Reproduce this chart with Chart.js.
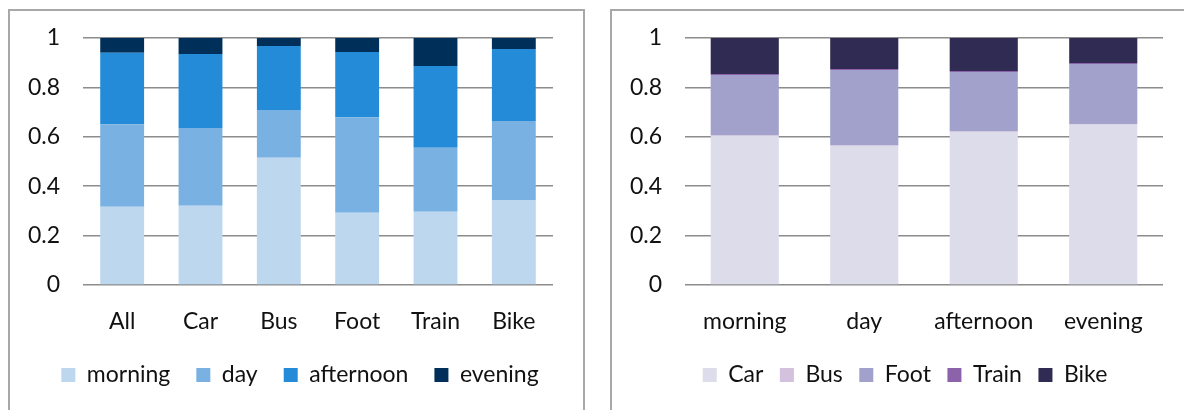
<!DOCTYPE html>
<html>
<head>
<meta charset="utf-8">
<script src="https://cdn.jsdelivr.net/npm/chart.js@4"></script>
<style>
  html, body { margin:0; padding:0; background:#fff; overflow:hidden; }
  .box { position:absolute; border:2px solid #a8a8a8; box-sizing:border-box; }
  canvas { position:absolute; }
</style>
</head>
<body>
<div class="box" style="left:8px;top:9px;width:577px;height:430px"></div>
<div class="box" style="left:610px;top:9px;width:620px;height:430px"></div>
<canvas id="byMode" width="571" height="399" style="left:10px;top:11px"></canvas>
<canvas id="byTime" width="572" height="399" style="left:612px;top:11px"></canvas>
<script>
// share of trips per time of day, for each mode
const modes = ['All','Car','Bus','Foot','Train','Bike'];
const morning   = [0.317, 0.321, 0.515, 0.293, 0.297, 0.344];
const day       = [0.334, 0.315, 0.194, 0.386, 0.259, 0.320];
const afternoon = [0.289, 0.299, 0.259, 0.264, 0.331, 0.291];
const evening   = [0.060, 0.065, 0.032, 0.057, 0.113, 0.045];

// share of trips per mode, for each time of day
const times = ['morning','day','afternoon','evening'];
const car   = [0.603, 0.563, 0.619, 0.649];
const bus   = [0.002, 0.002, 0.002, 0.002];
const foot  = [0.245, 0.305, 0.241, 0.244];
const train = [0.004, 0.004, 0.004, 0.004];
const bike  = [0.146, 0.126, 0.134, 0.101];

const yTicks = ['0','0.2','0.4','0.6','0.8','1'];

const FONT = {family:'Lato, sans-serif', size:23};
const TEXT = '#111';

// nudge the legend sideways so it sits under the whole chart, not just the plot
const legendShift = {
  id:'legendShift',
  afterLayout(chart, args, opts){
    if(!chart.legend) return;
    chart.legend.left += opts.dx;
    chart.legend.right += opts.dx;
  }
};

function stackedOptions(padR, barPct, gap, dx){
  return {
    responsive:false,
    animation:false,
    layout:{padding:{left:0, right:padR, top:27, bottom:13.5}},
    datasets:{bar:{categoryPercentage:1, barPercentage:barPct, borderWidth:0}},
    plugins:{
      tooltip:{enabled:false},
      legendShift:{dx:dx},
      legend:{
        position:'bottom',
        labels:{boxWidth:14, boxHeight:14, padding:gap, font:FONT, color:TEXT}
      }
    },
    scales:{
      x:{
        stacked:true,
        grid:{display:false},
        border:{display:false},
        ticks:{font:FONT, color:TEXT, padding:15, maxRotation:0},
        // legend row height depends on gap, keep the labels and legend at fixed rows
        afterFit: s => { s.height = 78.5 - gap; }
      },
      y:{
        stacked:true, min:0, max:1,
        border:{display:false},
        grid:{color:'#8c8c8c', lineWidth:1.5, drawTicks:false},
        ticks:{stepSize:0.2, font:FONT, color:TEXT, padding:23,
          callback:(v,i)=> yTicks[i]},
        afterFit: s => { s.width = 73; s.paddingTop = 0; }
      }
    }
  };
}

new Chart(document.getElementById('byMode'), {
  type:'bar',
  data:{
    labels:modes,
    datasets:[
      {label:'morning',   data:morning,   backgroundColor:'#bdd7ee'},
      {label:'day',       data:day,       backgroundColor:'#79b2e2'},
      {label:'afternoon', data:afternoon, backgroundColor:'#238bd7'},
      {label:'evening',   data:evening,   backgroundColor:'#00305a'}
    ]
  },
  options:stackedOptions(28, 0.56, 26, 18.5),
  plugins:[legendShift]
});

new Chart(document.getElementById('byTime'), {
  type:'bar',
  data:{
    labels:times,
    datasets:[
      {label:'Car',   data:car,   backgroundColor:'#dcdceb'},
      {label:'Bus',   data:bus,   backgroundColor:'#d3c1de'},
      {label:'Foot',  data:foot,  backgroundColor:'#a1a1cc'},
      {label:'Train', data:train, backgroundColor:'#8c62ab'},
      {label:'Bike',  data:bike,  backgroundColor:'#302b52'}
    ]
  },
  options:stackedOptions(21, 0.57, 16.5, 17.5),
  plugins:[legendShift]
});
</script>
</body>
</html>
